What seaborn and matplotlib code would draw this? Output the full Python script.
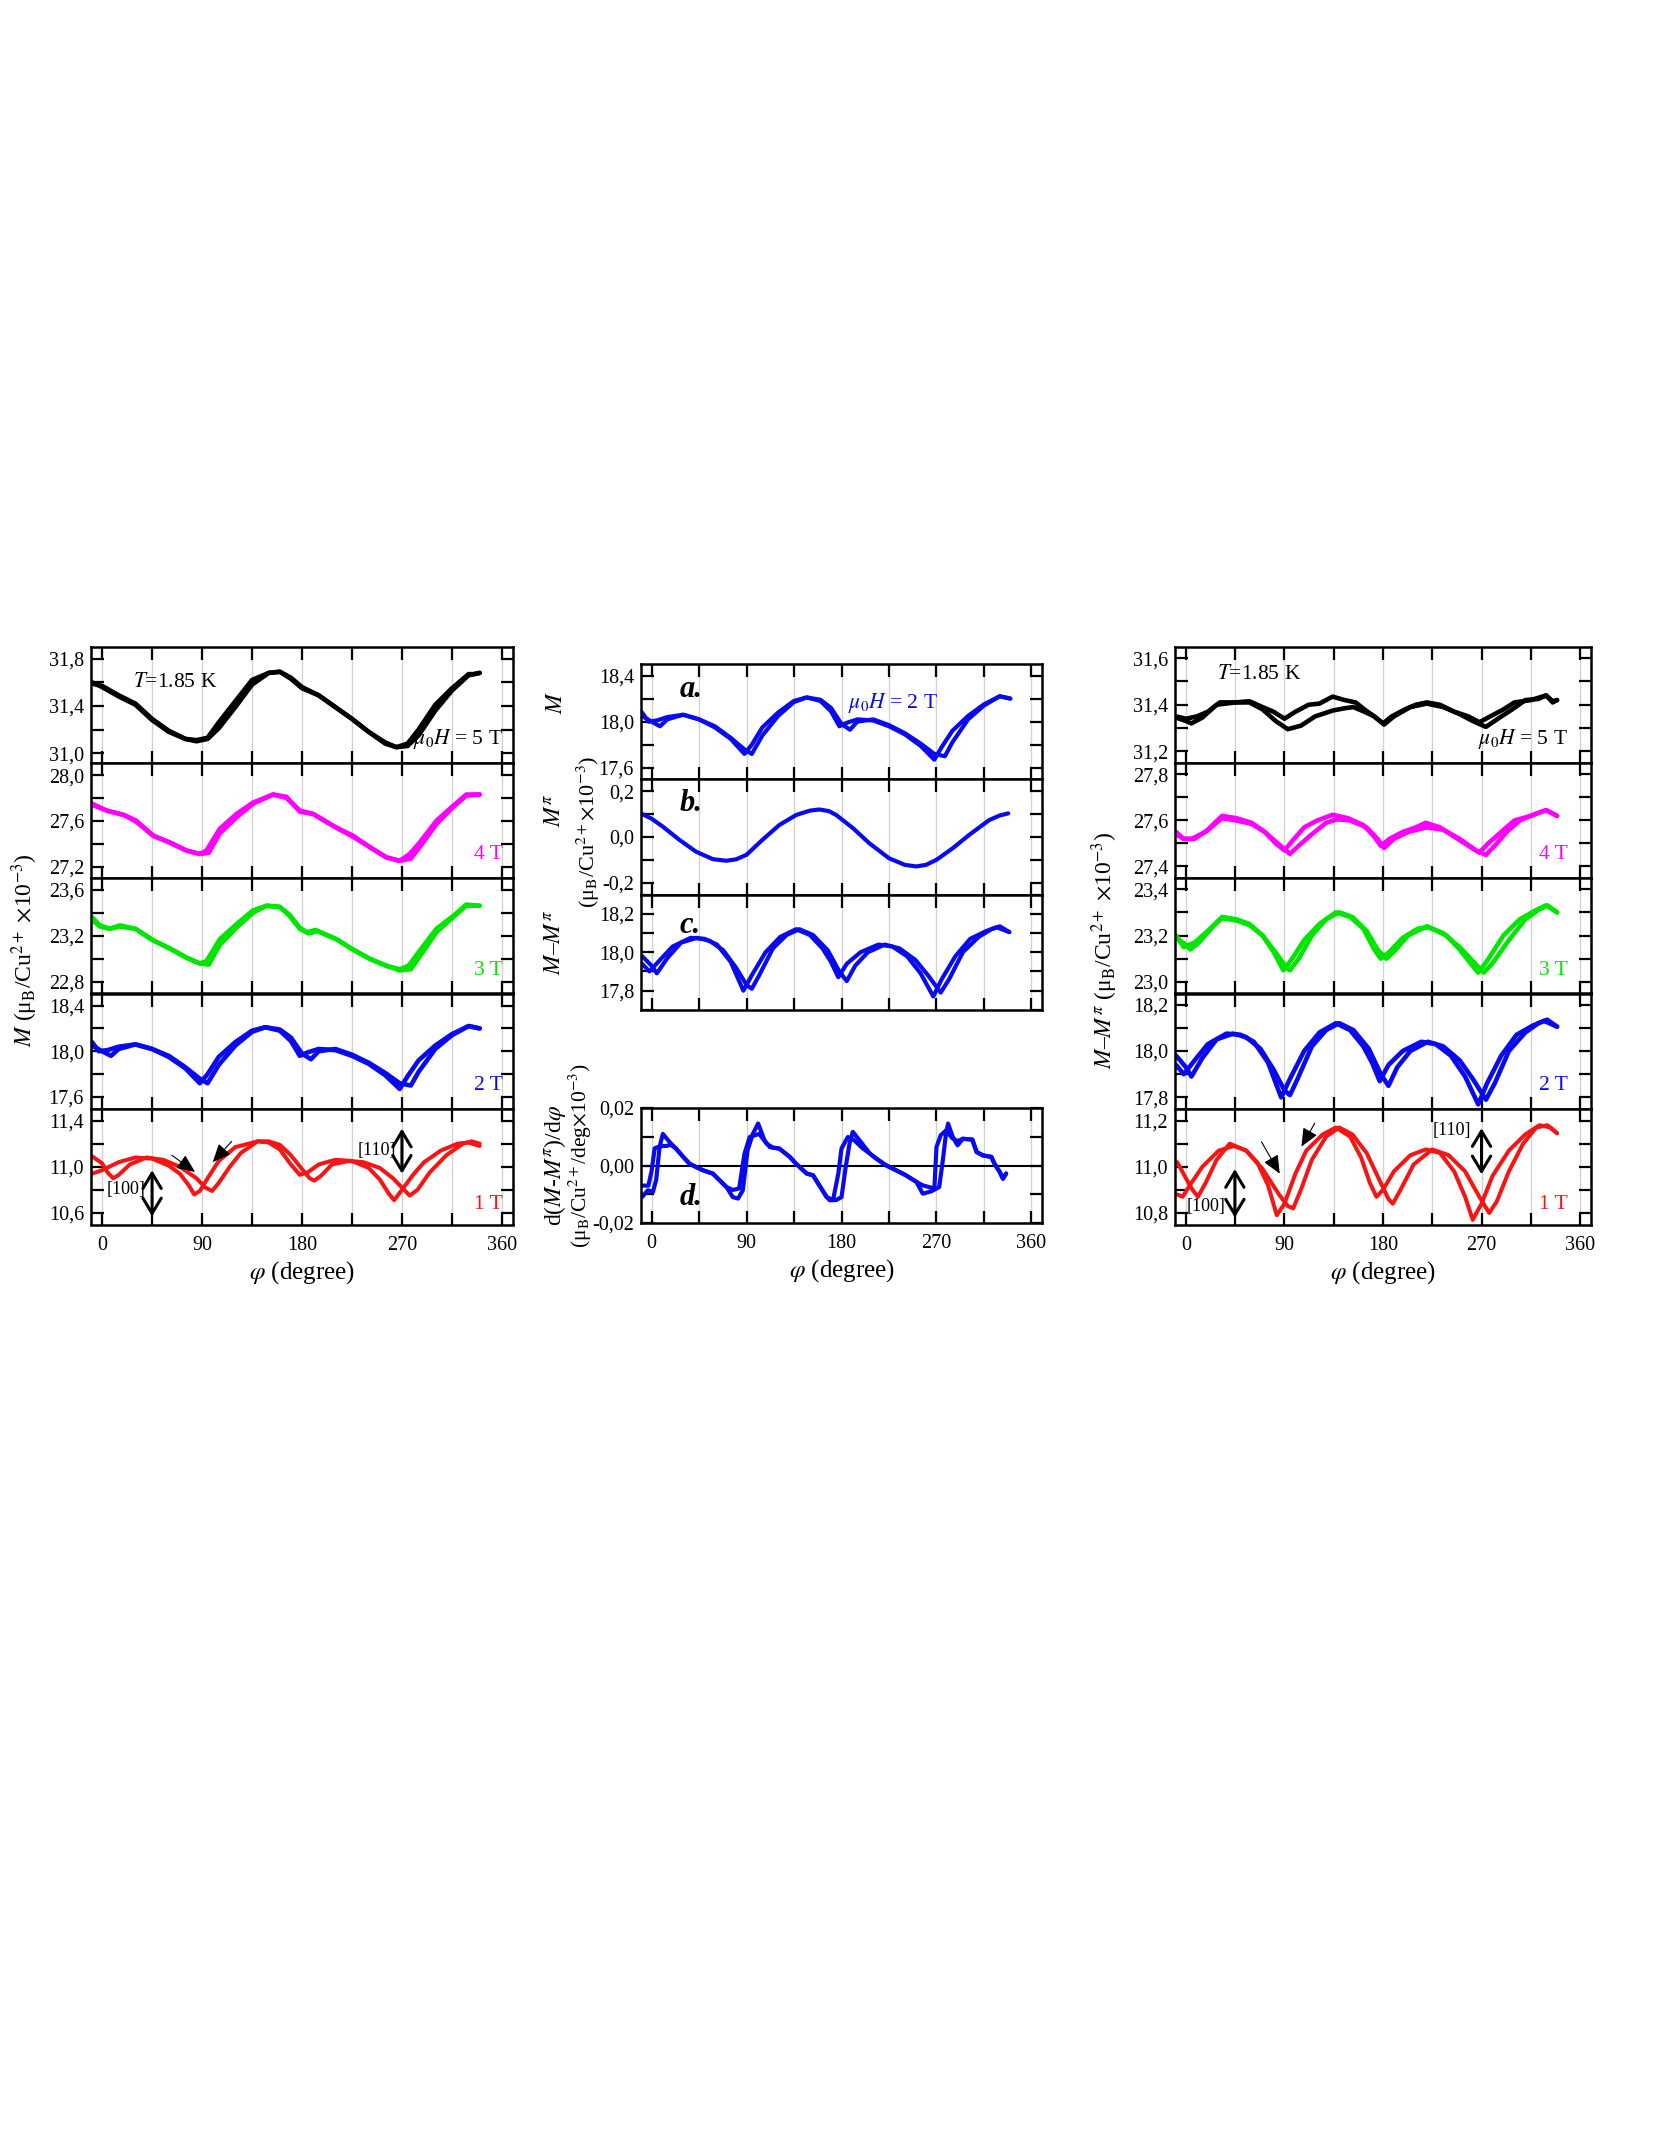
import matplotlib
matplotlib.use('Agg')
import matplotlib.pyplot as plt
from matplotlib.ticker import MultipleLocator, FixedLocator, FuncFormatter
import seaborn as sns

# ---------------- data ----------------
# left column: M at T = 1.85 K, two sweep branches per field
L5_phi_a = [-9, 0, 15, 30, 45, 60, 75, 85, 95, 105, 120, 135, 150, 160, 170, 180, 195, 210, 225, 240, 255, 265, 275, 285, 300, 315, 330, 335, 340]
L5_a = [31.59, 31.57, 31.49, 31.42, 31.29, 31.19, 31.12, 31.11, 31.13, 31.26, 31.44, 31.62, 31.68, 31.69, 31.63, 31.55, 31.49, 31.39, 31.29, 31.18, 31.08, 31.05, 31.08, 31.20, 31.41, 31.55, 31.67, 31.67, 31.68]
L5_phi_b = [-9, 0, 15, 30, 45, 60, 75, 85, 95, 105, 120, 135, 150, 160, 170, 180, 195, 210, 225, 240, 255, 265, 275, 285, 300, 315, 330, 340]
L5_b = [31.60, 31.56, 31.48, 31.41, 31.28, 31.18, 31.12, 31.10, 31.12, 31.21, 31.39, 31.58, 31.68, 31.69, 31.64, 31.56, 31.49, 31.39, 31.29, 31.18, 31.09, 31.05, 31.06, 31.15, 31.36, 31.53, 31.66, 31.68]

L4_phi_a = [-9, 4, 20, 31, 46, 61, 76, 88, 94, 106, 121, 136, 154, 166, 178, 190, 211, 226, 241, 256, 268, 277, 286, 301, 316, 328, 340]
L4_a = [27.75, 27.69, 27.65, 27.60, 27.47, 27.41, 27.34, 27.31, 27.34, 27.53, 27.66, 27.76, 27.83, 27.80, 27.69, 27.66, 27.54, 27.47, 27.37, 27.28, 27.25, 27.31, 27.41, 27.60, 27.73, 27.83, 27.83]
L4_phi_b = [-9, 4, 20, 31, 46, 61, 76, 88, 96, 106, 121, 136, 154, 166, 178, 190, 211, 226, 241, 256, 268, 278, 286, 301, 316, 328, 340]
L4_b = [27.74, 27.69, 27.65, 27.59, 27.47, 27.41, 27.34, 27.31, 27.32, 27.49, 27.63, 27.75, 27.83, 27.81, 27.68, 27.66, 27.54, 27.46, 27.37, 27.28, 27.25, 27.27, 27.37, 27.57, 27.72, 27.82, 27.83]

L3_phi_a = [-9, -2, 7, 16, 30, 46, 61, 76, 88, 94, 106, 121, 136, 148, 160, 169, 178, 184, 192, 211, 226, 241, 256, 268, 276, 286, 301, 316, 328, 340]
L3_a = [23.36, 23.29, 23.26, 23.29, 23.26, 23.16, 23.09, 23.01, 22.96, 22.98, 23.17, 23.30, 23.42, 23.46, 23.45, 23.37, 23.26, 23.23, 23.25, 23.17, 23.08, 23.00, 22.94, 22.91, 22.94, 23.07, 23.26, 23.37, 23.47, 23.46]
L3_phi_b = [-9, -2, 7, 16, 30, 46, 61, 76, 88, 96, 106, 121, 136, 148, 160, 169, 178, 186, 194, 211, 226, 241, 256, 268, 278, 286, 301, 316, 328, 340]
L3_b = [23.34, 23.28, 23.26, 23.28, 23.26, 23.16, 23.09, 23.01, 22.96, 22.95, 23.12, 23.27, 23.40, 23.46, 23.45, 23.38, 23.27, 23.22, 23.24, 23.17, 23.08, 23.00, 22.94, 22.90, 22.91, 23.02, 23.23, 23.36, 23.46, 23.46]

L2_phi_a = [-9, -3, 5, 15, 30, 45, 60, 75, 88, 95, 105, 120, 135, 147, 160, 170, 178, 185, 195, 210, 225, 240, 255, 268, 275, 285, 300, 315, 330, 340]
L2_a = [18.08, 18.00, 18.01, 18.04, 18.06, 18.02, 17.95, 17.85, 17.72, 17.80, 17.95, 18.08, 18.18, 18.21, 18.18, 18.09, 17.96, 17.99, 18.02, 18.01, 17.96, 17.89, 17.79, 17.67, 17.78, 17.92, 18.05, 18.15, 18.22, 18.20]
L2_phi_b = [-9, 0, 8, 15, 30, 45, 60, 75, 88, 95, 105, 120, 135, 147, 160, 170, 180, 188, 195, 210, 225, 240, 255, 268, 278, 285, 300, 315, 330, 340]
L2_b = [18.05, 18.00, 17.96, 18.02, 18.06, 18.02, 17.96, 17.86, 17.76, 17.72, 17.88, 18.05, 18.17, 18.21, 18.19, 18.12, 17.98, 17.93, 18.00, 18.02, 17.97, 17.90, 17.81, 17.72, 17.70, 17.82, 18.02, 18.14, 18.22, 18.20]

L1_phi_a = [-9, 0, 15, 30, 45, 60, 70, 78, 83, 88, 95, 105, 120, 140, 150, 160, 170, 178, 185, 195, 210, 225, 240, 250, 258, 263, 270, 280, 290, 305, 320, 330, 340]
L1_a = [10.94, 10.97, 11.04, 11.08, 11.07, 11.01, 10.94, 10.84, 10.76, 10.79, 10.90, 11.05, 11.17, 11.22, 11.21, 11.15, 11.02, 10.93, 10.95, 11.02, 11.06, 11.05, 10.99, 10.89, 10.77, 10.71, 10.80, 10.93, 11.04, 11.14, 11.20, 11.21, 11.18]
L1_phi_b = [-9, 0, 5, 10, 15, 25, 40, 55, 70, 85, 93, 99, 105, 115, 125, 140, 150, 160, 170, 180, 187, 191, 197, 207, 222, 235, 250, 262, 270, 277, 284, 295, 310, 325, 333, 340]
L1_b = [11.09, 11.03, 10.95, 10.90, 10.93, 11.02, 11.08, 11.06, 11.00, 10.90, 10.82, 10.79, 10.86, 11.00, 11.12, 11.22, 11.22, 11.19, 11.10, 10.98, 10.90, 10.88, 10.92, 11.02, 11.05, 11.04, 10.99, 10.90, 10.82, 10.75, 10.80, 10.95, 11.10, 11.20, 11.22, 11.20]

# right column: M - M^pi
R5_phi_a = [-9, 0, 10, 20, 31, 45, 58, 70, 80, 90, 100, 112, 122, 134, 145, 155, 163, 172, 180, 188, 200, 210, 220, 232, 245, 258, 268, 278, 290, 300, 315, 329, 335, 339]
R5_a = [31.35, 31.34, 31.35, 31.37, 31.41, 31.41, 31.415, 31.39, 31.37, 31.34, 31.37, 31.40, 31.405, 31.435, 31.42, 31.41, 31.38, 31.35, 31.32, 31.35, 31.38, 31.40, 31.41, 31.40, 31.37, 31.35, 31.325, 31.35, 31.38, 31.41, 31.42, 31.44, 31.41, 31.42]
R5_phi_b = [-9, 0, 5, 15, 28, 45, 58, 70, 82, 93, 105, 118, 134, 145, 153, 163, 172, 181, 190, 205, 220, 235, 250, 262, 274, 285, 298, 310, 322, 329, 335, 339]
R5_b = [31.345, 31.33, 31.32, 31.345, 31.40, 31.41, 31.41, 31.38, 31.33, 31.295, 31.31, 31.35, 31.375, 31.385, 31.39, 31.37, 31.35, 31.315, 31.35, 31.39, 31.405, 31.39, 31.36, 31.33, 31.305, 31.34, 31.38, 31.42, 31.425, 31.44, 31.415, 31.42]

R4_phi_a = [-9, -2, 8, 20, 33, 46, 60, 72, 82, 90, 97, 108, 120, 134, 148, 162, 172, 178, 186, 198, 210, 219, 232, 245, 258, 268, 276, 288, 300, 315, 329, 339]
R4_a = [27.55, 27.52, 27.52, 27.56, 27.62, 27.61, 27.59, 27.55, 27.50, 27.47, 27.51, 27.57, 27.60, 27.625, 27.61, 27.58, 27.53, 27.49, 27.52, 27.55, 27.57, 27.59, 27.57, 27.53, 27.49, 27.46, 27.50, 27.55, 27.60, 27.62, 27.645, 27.62]
R4_phi_b = [-9, -2, 5, 18, 33, 46, 60, 72, 84, 95, 103, 115, 128, 138, 150, 165, 175, 181, 190, 203, 220, 235, 250, 265, 274, 282, 293, 305, 320, 329, 339]
R4_b = [27.54, 27.52, 27.52, 27.55, 27.61, 27.60, 27.585, 27.55, 27.50, 27.455, 27.49, 27.54, 27.59, 27.605, 27.60, 27.57, 27.52, 27.48, 27.52, 27.55, 27.57, 27.56, 27.52, 27.47, 27.45, 27.49, 27.55, 27.60, 27.63, 27.645, 27.62]

R3_phi_a = [-9, -2, 8, 20, 33, 46, 58, 70, 80, 89, 97, 108, 122, 137, 150, 162, 172, 178, 186, 198, 212, 222, 238, 250, 260, 267, 275, 290, 305, 320, 329, 339]
R3_a = [23.20, 23.15, 23.17, 23.22, 23.28, 23.27, 23.25, 23.20, 23.13, 23.05, 23.10, 23.18, 23.25, 23.30, 23.28, 23.23, 23.14, 23.10, 23.13, 23.19, 23.23, 23.235, 23.20, 23.14, 23.08, 23.04, 23.09, 23.20, 23.27, 23.31, 23.33, 23.30]
R3_phi_b = [-9, 0, 4, 12, 25, 33, 46, 58, 70, 83, 92, 95, 103, 115, 128, 140, 152, 165, 175, 183, 190, 203, 220, 235, 250, 262, 272, 280, 295, 310, 322, 330, 339]
R3_b = [23.19, 23.16, 23.14, 23.17, 23.24, 23.275, 23.265, 23.245, 23.20, 23.12, 23.06, 23.05, 23.10, 23.20, 23.27, 23.30, 23.28, 23.22, 23.14, 23.10, 23.13, 23.20, 23.24, 23.21, 23.15, 23.09, 23.04, 23.08, 23.18, 23.27, 23.31, 23.33, 23.30]

R2_phi_a = [-9, -2, 8, 20, 37, 50, 62, 75, 87, 95, 108, 122, 137, 150, 162, 170, 177, 185, 198, 215, 228, 242, 255, 267, 275, 288, 302, 317, 327, 339]
R2_a = [17.94, 17.90, 17.96, 18.03, 18.075, 18.07, 18.04, 17.95, 17.80, 17.88, 18.00, 18.08, 18.12, 18.09, 18.02, 17.95, 17.87, 17.94, 18.00, 18.04, 18.03, 17.98, 17.89, 17.77, 17.86, 17.98, 18.07, 18.11, 18.13, 18.105]
R2_phi_b = [-9, 0, 5, 15, 28, 43, 55, 68, 80, 90, 95, 102, 115, 128, 140, 153, 167, 178, 185, 193, 205, 221, 235, 250, 262, 274, 282, 295, 310, 322, 330, 339]
R2_b = [17.98, 17.93, 17.89, 17.97, 18.05, 18.075, 18.06, 18.01, 17.92, 17.83, 17.81, 17.88, 18.02, 18.09, 18.12, 18.09, 18.01, 17.90, 17.85, 17.93, 18.00, 18.04, 18.02, 17.96, 17.88, 17.79, 17.86, 18.00, 18.08, 18.12, 18.135, 18.105]

R1_phi_a = [-8, -3, 5, 15, 30, 44, 55, 65, 75, 83, 90, 100, 110, 125, 137, 150, 160, 168, 174, 180, 190, 205, 219, 232, 245, 255, 262, 270, 280, 295, 310, 323, 333, 339]
R1_a = [10.88, 10.87, 10.93, 11.00, 11.07, 11.09, 11.07, 11.02, 10.92, 10.79, 10.84, 10.97, 11.07, 11.14, 11.17, 11.13, 11.04, 10.93, 10.87, 10.90, 10.98, 11.05, 11.075, 11.06, 10.98, 10.87, 10.77, 10.84, 10.96, 11.07, 11.14, 11.18, 11.17, 11.145]
R1_phi_b = [-8, 0, 6, 11, 18, 28, 40, 55, 70, 85, 93, 98, 105, 115, 128, 140, 152, 165, 178, 185, 189, 196, 208, 225, 240, 255, 268, 277, 284, 295, 308, 320, 330, 339]
R1_b = [11.02, 10.95, 10.90, 10.87, 10.93, 11.03, 11.10, 11.07, 10.99, 10.88, 10.83, 10.82, 10.90, 11.03, 11.13, 11.17, 11.14, 11.06, 10.93, 10.86, 10.84, 10.90, 11.01, 11.075, 11.05, 10.98, 10.87, 10.80, 10.85, 10.98, 11.10, 11.17, 11.18, 11.145]

# middle column: M^pi at 2 T and the derivative d(M - M^pi)/dphi
Mpi_phi = [-10, 0, 10.7, 26.5, 42, 58, 70.7, 80, 90, 105, 121, 137, 150, 159, 168, 175, 191, 206.5, 225, 240, 251, 260, 270, 285.5, 301, 320, 330, 338]
Mpi = [0.103, 0.08, 0.045, -0.013, -0.064, -0.097, -0.104, -0.098, -0.078, -0.013, 0.052, 0.096, 0.115, 0.12, 0.113, 0.096, 0.038, -0.028, -0.093, -0.122, -0.129, -0.122, -0.10, -0.049, 0.009, 0.074, 0.094, 0.103]

dA_phi = [-9, -3, 0, 3, 8, 14, 18, 23, 30, 36, 42, 49, 58, 66, 71, 77, 83, 88, 93, 102, 109, 115, 121, 131, 137, 147, 153, 159, 166, 172, 177, 180, 186, 192, 200, 207, 213, 222, 232, 241, 251, 257, 263, 268, 270, 274, 279, 285, 290, 295, 304, 308, 314, 322, 325, 330, 333, 336]
dA = [-0.007, -0.007, -0.002, 0.006, 0.0067, 0.0068, 0.0072, 0.006, 0.003, 0.0006, -0.0005, -0.0017, -0.0028, -0.0057, -0.0075, -0.0085, -0.008, 0.004, 0.0099, 0.011, 0.0076, 0.0062, 0.0059, 0.003, 0.0006, -0.0028, -0.0034, -0.0069, -0.011, -0.012, -0.0028, 0.0059, 0.0099, 0.0088, 0.006, 0.0041, 0.0024, 0.0001, -0.0017, -0.0034, -0.0057, -0.0069, -0.0075, -0.008, 0.0064, 0.0105, 0.0122, 0.0095, 0.0085, 0.0093, 0.009, 0.0047, 0.0035, 0.003, 0.0006, -0.0023, -0.0046, -0.0028]
dB_phi = [-9, -3.5, 1.3, 4.4, 7.6, 10.7, 17, 23, 30, 36, 42, 49, 58, 66, 71, 77, 82, 86.5, 91, 96, 101, 107, 112, 121, 131, 137, 147, 153, 159, 166, 169, 175, 180, 184, 187.6, 190.7, 197, 207, 213, 222, 232, 241, 251, 257, 265, 272.6, 276, 279, 281, 285.5, 290, 295, 304, 308, 314, 322, 325, 330, 333, 336]
dB = [-0.011, -0.0086, -0.0092, -0.005, 0.0064, 0.011, 0.0082, 0.0059, 0.003, 0.0006, -0.0005, -0.0017, -0.0028, -0.0057, -0.0075, -0.011, -0.0115, -0.0086, 0.0053, 0.011, 0.0146, 0.0088, 0.0064, 0.0059, 0.003, 0.0006, -0.0028, -0.0034, -0.0069, -0.011, -0.0121, -0.012, -0.011, -0.0005, 0.0076, 0.0117, 0.0088, 0.0041, 0.0024, 0.0001, -0.0017, -0.0034, -0.0057, -0.0098, -0.009, -0.0075, 0.0018, 0.011, 0.0146, 0.0099, 0.007, 0.0093, 0.009, 0.0047, 0.0035, 0.003, 0.0006, -0.0023, -0.0046, -0.0028]

field_labels = ['5 T', '4 T', '3 T', '2 T', '1 T']
field_colors = ['#000000', '#ff00ff', '#00e600', '#0a0aee', '#f51515']
left_ticks = [[31.0, 31.4, 31.8], [27.2, 27.6, 28.0], [22.8, 23.2, 23.6], [17.6, 18.0, 18.4], [10.6, 11.0, 11.4]]
left_ylims = [(30.92, 31.90), (27.10, 28.11), (22.70, 23.70), (17.495, 18.505), (10.50, 11.50)]
right_ticks = [[31.2, 31.4, 31.6], [27.4, 27.6, 27.8], [23.0, 23.2, 23.4], [17.8, 18.0, 18.2], [10.8, 11.0, 11.2]]
right_ylims = [(31.152, 31.648), (27.35, 27.852), (22.95, 23.448), (17.75, 18.248), (10.75, 11.25)]
x_ticks = [0, 90, 180, 270, 360]

# ---------------- style ----------------
sns.set_theme(style='ticks')
plt.rcParams['font.family'] = ['Liberation Serif', 'DejaVu Serif']
plt.rcParams.update({
    'mathtext.fontset': 'stix',
    'axes.edgecolor': 'black', 'xtick.color': 'black', 'ytick.color': 'black',
    'text.color': 'black', 'axes.labelcolor': 'black',
    'axes.linewidth': 1.8,
})

W, H = 1661, 2149
fig = plt.figure(figsize=(W / 100, H / 100), dpi=100)


def rect(x0, w, top, h):
    return [x0 / W, 1 - (top + h) / H, w / W, h / H]


def fmt(dec):
    return FuncFormatter(lambda v, p: f'{round(v, dec) + 0.0:.{dec}f}'.replace('.', ','))


def setup(ax, ylim, ticks, minor, dec=1, xlab=False):
    ax.set_xlim(-10, 370)
    ax.set_ylim(*ylim)
    ax.xaxis.set_major_locator(FixedLocator(x_ticks))
    ax.xaxis.set_minor_locator(MultipleLocator(45))
    ax.yaxis.set_major_locator(FixedLocator(ticks))
    ax.yaxis.set_minor_locator(MultipleLocator(minor))
    ax.yaxis.set_major_formatter(fmt(dec))
    ax.tick_params(which='both', direction='in', top=True, right=True,
                   width=1.6, length=9, labelsize=14.5, pad=5)
    ax.tick_params(axis='x', pad=8)
    ax.grid(True, axis='x', which='both', color='#d2d2d2', lw=1.0)
    ax.grid(False, axis='y')
    ax.set_axisbelow(True)
    ax.tick_params(labelbottom=xlab)
    if xlab:
        ax.set_xlabel(r'$\varphi$ (degree)', fontsize=18, labelpad=3)


def branch(ax, phi, val, color, lw=3.2):
    sns.lineplot(x=phi, y=val, ax=ax, color=color, lw=lw, sort=False,
                 estimator=None, legend=False,
                 solid_joinstyle='round', solid_capstyle='round')


def darrow(ax, x, y0, y1):
    ax.annotate('', xy=(x, y0), xytext=(x, y1),
                arrowprops=dict(arrowstyle='<->,head_length=0.5,head_width=0.3',
                                lw=2.2, color='black',
                                mutation_scale=22, shrinkA=0, shrinkB=0))


def sarrow(ax, p0, p1):
    ax.annotate('', xy=p1, xytext=p0,
                arrowprops=dict(arrowstyle='-|>,head_length=0.8,head_width=0.35',
                                lw=0.8, color='black', mutation_scale=14,
                                shrinkA=0, shrinkB=0))


left_data = [(L5_phi_a, L5_a, L5_phi_b, L5_b), (L4_phi_a, L4_a, L4_phi_b, L4_b),
             (L3_phi_a, L3_a, L3_phi_b, L3_b), (L2_phi_a, L2_a, L2_phi_b, L2_b),
             (L1_phi_a, L1_a, L1_phi_b, L1_b)]
right_data = [(R5_phi_a, R5_a, R5_phi_b, R5_b), (R4_phi_a, R4_a, R4_phi_b, R4_b),
              (R3_phi_a, R3_a, R3_phi_b, R3_b), (R2_phi_a, R2_a, R2_phi_b, R2_b),
              (R1_phi_a, R1_a, R1_phi_b, R1_b)]

# ---------------- left and right columns ----------------
row_h = 115.5
for col, (x0, w, data, ticks, ylims, lab_x) in enumerate([
        (91, 422, left_data, left_ticks, left_ylims, 0.975),
        (1175, 416, right_data, right_ticks, right_ylims, 0.945)]):
    for i in range(5):
        ax = fig.add_axes(rect(x0, w, 647 + i * row_h, row_h))
        lw = 2.9 if i == 4 else 3.3
        pa, va, pb, vb = data[i]
        branch(ax, pa, va, field_colors[i], lw)
        branch(ax, pb, vb, field_colors[i], lw)
        minor = 0.2 if col == 0 else 0.1
        setup(ax, ylims[i], ticks[i], minor, xlab=(i == 4))
        if i == 0:
            ax.text(0.10, 0.69 if col == 0 else 0.76, r'$T$=1.85 K', transform=ax.transAxes,
                    fontsize=15.5, va='center', ha='left')
            ax.text(lab_x, 0.20, r'$\mu_{\mathit{0}}H$ = 5 T', transform=ax.transAxes,
                    fontsize=15.5, va='center', ha='right')
        else:
            ax.text(lab_x, 0.2 if i < 4 else 0.17, field_labels[i], transform=ax.transAxes,
                    fontsize=15.5, va='center', ha='right', color=field_colors[i])
        if i == 4 and col == 0:
            darrow(ax, 45, 10.57, 10.97)
            ax.text(22, 10.80, '[100]', fontsize=13, ha='center', va='center')
            darrow(ax, 270, 10.94, 11.33)
            ax.text(247, 11.14, '[110]', fontsize=13, ha='center', va='center')
            sarrow(ax, (62.7, 11.10), (83.7, 10.955))
            sarrow(ax, (116.7, 11.22), (99.6, 11.04))
        if i == 4 and col == 1:
            darrow(ax, 44.7, 10.78, 10.99)
            ax.text(18, 10.83, '[100]', fontsize=13, ha='center', va='center')
            darrow(ax, 270, 10.967, 11.167)
            ax.text(243, 11.156, '[110]', fontsize=13, ha='center', va='center')
            sarrow(ax, (69, 11.108), (85.7, 10.97))
            sarrow(ax, (117.6, 11.188), (105.5, 11.087))

# ---------------- middle column ----------------
mx0, mw = 641, 401
blue = field_colors[3]

ax_a = fig.add_axes(rect(mx0, mw, 664, 115.3))
branch(ax_a, L2_phi_a, L2_a, blue, 3.0)
branch(ax_a, L2_phi_b, L2_b, blue, 3.0)
setup(ax_a, (17.50, 18.50), [17.6, 18.0, 18.4], 0.2)
ax_a.text(0.096, 0.78, 'a.', transform=ax_a.transAxes, fontsize=22,
          fontweight='bold', style='italic', va='center')
ax_a.text(0.516, 0.66, r'$\mu_{\mathit{0}}H$ = 2 T', transform=ax_a.transAxes,
          fontsize=15.5, va='center', color=blue)

ax_b = fig.add_axes(rect(mx0, mw, 779.3, 115.3))
branch(ax_b, Mpi_phi, Mpi, blue, 3.0)
setup(ax_b, (-0.252, 0.252), [-0.2, 0.0, 0.2], 0.1)
ax_b.text(0.096, 0.79, 'b.', transform=ax_b.transAxes, fontsize=22,
          fontweight='bold', style='italic', va='center')

ax_c = fig.add_axes(rect(mx0, mw, 894.6, 115.3))
branch(ax_c, R2_phi_a, R2_a, blue, 3.0)
branch(ax_c, R2_phi_b, R2_b, blue, 3.0)
setup(ax_c, (17.70, 18.30), [17.8, 18.0, 18.2], 0.1)
ax_c.text(0.096, 0.73, 'c.', transform=ax_c.transAxes, fontsize=22,
          fontweight='bold', style='italic', va='center')

ax_d = fig.add_axes(rect(mx0, mw, 1108, 115))
ax_d.axhline(0, color='black', lw=1.5, zorder=1)
branch(ax_d, dA_phi, dA, blue, 3.0)
branch(ax_d, dB_phi, dB, blue, 3.0)
setup(ax_d, (-0.02, 0.02), [-0.02, 0.0, 0.02], 0.01, dec=2, xlab=True)
ax_d.text(0.096, 0.225, 'd.', transform=ax_d.transAxes, fontsize=22,
          fontweight='bold', style='italic', va='center')

# ---------------- axis titles ----------------
def ftext(x, y, s, size=17):
    fig.text(x / W, 1 - y / H, s, rotation=90, ha='center', va='center', fontsize=size)


ftext(25, 950, r'$M$ (μ$_\mathrm{B}$/Cu$^{2+}$ $\times$10$^{-3}$)')
ftext(1105, 950, r'$M$–$M^{\pi}$ (μ$_\mathrm{B}$/Cu$^{2+}$ $\times$10$^{-3}$)')
ftext(556, 702, r'$M$')
ftext(556, 810, r'$M^{\pi}$')
ftext(588, 832, r'(μ$_\mathrm{B}$/Cu$^{2+}$$\times$10$^{-3}$)', size=16)
ftext(556, 942, r'$M$–$M^{\pi}$')
ftext(555, 1165, r'd($M$-$M^{\pi}$)/d$\varphi$')
ftext(580, 1156, r'(μ$_\mathrm{B}$/Cu$^{2+}$/deg$\times$10$^{-3}$)', size=15.5)

fig.savefig('out.png', dpi=100, facecolor='white')
